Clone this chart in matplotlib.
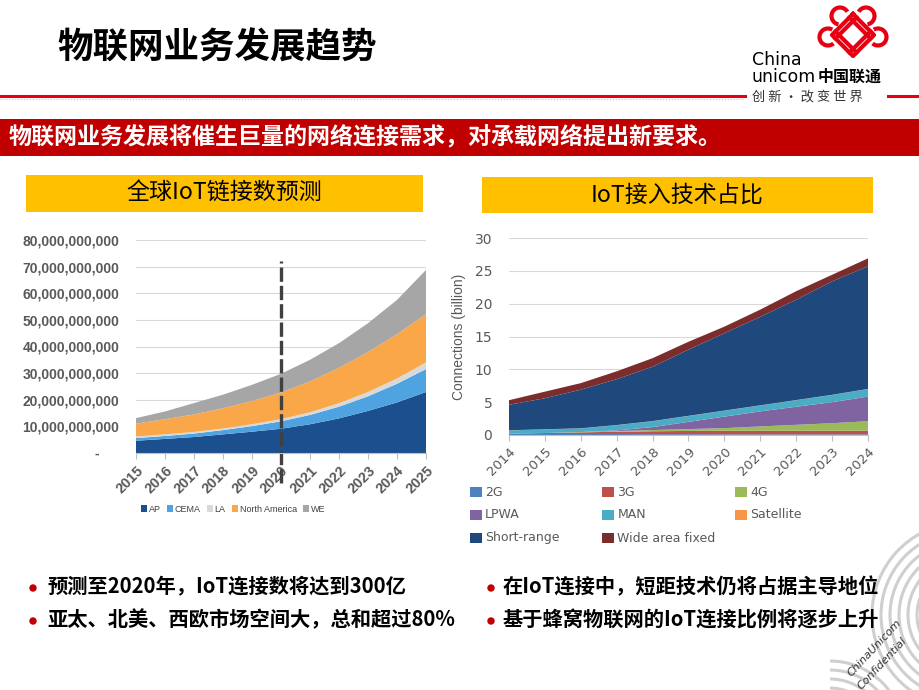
import matplotlib
matplotlib.use('Agg')
import matplotlib.pyplot as plt
from matplotlib.patches import Rectangle, Arc, Circle
from matplotlib.ticker import FuncFormatter
import numpy as np

plt.rcParams['font.family'] = ['Noto Sans CJK SC', 'DejaVu Sans']

# 左图：全球IoT链接数预测（单位：十亿）
years_l = list(range(2015, 2026))
AP = [4.6, 5.3, 6.0, 7.0, 8.0, 9.1, 10.8, 13.0, 15.8, 19.0, 22.9]
CEMA = [1.0, 1.1, 1.3, 1.6, 2.1, 2.8, 3.5, 4.4, 5.5, 7.0, 8.6]
LA = [0.6, 0.6, 0.6, 0.6, 0.7, 0.8, 1.0, 1.3, 1.6, 2.0, 2.5]
NA = [4.8, 5.7, 6.6, 7.6, 8.7, 10.0, 11.6, 13.3, 15.0, 16.6, 18.2]
WE = [2.1, 2.9, 4.25, 5.1, 6.1, 7.05, 8.1, 9.25, 10.85, 12.9, 16.55]
labels_l = ['AP', 'CEMA', 'LA', 'North America', 'WE']
colors_l = ['#1B4F8E', '#4FA3E0', '#D9D9D9', '#FAA74A', '#A6A6A6']
forecast_year = 2020

# 右图：IoT接入技术占比（单位：billion）
years_r = list(range(2014, 2025))
g2 = [0.15, 0.15, 0.15, 0.15, 0.12, 0.12, 0.1, 0.1, 0.1, 0.1, 0.1]
g3 = [0.05, 0.15, 0.25, 0.35, 0.45, 0.5, 0.55, 0.55, 0.55, 0.55, 0.55]
g4 = [0.0, 0.0, 0.05, 0.1, 0.18, 0.28, 0.4, 0.65, 0.9, 1.15, 1.45]
lpwa = [0.0, 0.0, 0.0, 0.1, 0.45, 1.1, 1.75, 2.3, 2.75, 3.2, 3.75]
man = [0.5, 0.55, 0.55, 0.8, 0.9, 0.9, 0.9, 0.9, 1.0, 1.1, 1.15]
satellite = [0.02] * 11
short_range = [3.88, 4.73, 5.88, 6.98, 8.28, 10.08, 11.78, 13.48, 15.28, 17.28, 18.68]
wide_fixed = [0.7, 1.0, 1.0, 1.2, 1.3, 1.2, 1.0, 1.1, 1.3, 1.0, 1.2]
labels_r = ['2G', '3G', '4G', 'LPWA', 'MAN', 'Satellite', 'Short-range', 'Wide area fixed']
colors_r = ['#4F81BD', '#C0504D', '#9BBB59', '#8064A2', '#4BACC6', '#F79646', '#1F497D', '#7B2C2C']

bullets_l = ['预测至2020年，IoT连接数将达到300亿', '亚太、北美、西欧市场空间大，总和超过80%']
bullets_r = ['在IoT连接中，短距技术仍将占据主导地位', '基于蜂窝物联网的IoT连接比例将逐步上升']

W, H = 920, 690
fig = plt.figure(figsize=(9.2, 6.9), dpi=100)

# 背景层（像素坐标）
bg = fig.add_axes([0, 0, 1, 1])
bg.set_xlim(0, W)
bg.set_ylim(H, 0)
bg.axis('off')

bg.text(57, 48, '物联网业务发展趋势', fontsize=25.6, fontweight='heavy', va='center', ha='left')
bg.plot([0, 745], [96, 96], color='#E60012', lw=2.2)
bg.plot([888, 920], [96, 96], color='#E60012', lw=2.2)
bg.plot([0, 745], [99, 99], color='#CCCCCC', lw=0.8, ls=':')

# logo
red = '#E60012'
cx, cy, s = 853, 35, 21
bg.plot([cx, cx + s, cx, cx - s, cx], [cy - s, cy, cy + s, cy, cy - s], color=red, lw=3)
for k in (-1, 1):
    d = s / 3 * k
    bg.plot([cx - s / 2 + d, cx + s / 2 + d], [cy - s / 2 - d, cy + s / 2 - d], color=red, lw=3)
    bg.plot([cx + s / 2 + d, cx - s / 2 + d], [cy - s / 2 + d, cy + s / 2 + d], color=red, lw=3)
for (ax_, ay_, t1, t2) in [(cx - 13, cy - 19, 100, 330), (cx + 13, cy - 19, 210, 80),
                          (cx - 25, cy + 2, 50, 300), (cx + 25, cy + 2, 240, 130)]:
    bg.add_patch(Arc((ax_, ay_), 17, 17, theta1=t1, theta2=t2, color=red, lw=3))
bg.text(752, 60, 'China', fontsize=12.5, family='DejaVu Sans', va='center', ha='left')
bg.text(752, 77, 'unicom', fontsize=12.5, family='DejaVu Sans', va='center', ha='left')
bg.text(818, 77, '中国联通', fontsize=11.5, fontweight='bold', va='center', ha='left')
bg.text(752, 97, '创 新 · 改 变 世 界', fontsize=9.5, va='center', ha='left', color='#333333')

# 红色横幅
bg.add_patch(Rectangle((0, 119), W, 37, color='#C00000', lw=0))
bg.text(9, 137.5, '物联网业务发展将催生巨量的网络连接需求，对承载网络提出新要求。',
        fontsize=16.6, fontweight='bold', color='white', va='center', ha='left')

# 黄色标题框
bg.add_patch(Rectangle((26, 175), 397, 37, color='#FFC000', lw=0))
bg.text(224.5, 193.5, '全球IoT链接数预测', fontsize=16.6, va='center', ha='center')
bg.add_patch(Rectangle((482, 177), 391, 36, color='#FFC000', lw=0))
bg.text(677.5, 195, 'IoT接入技术占比', fontsize=16.6, va='center', ha='center')

# 水印
for r in range(30, 100, 9):
    bg.add_patch(Arc((965, 615), 2 * r, 2 * r, theta1=95, theta2=265, color='#CFCFCF', lw=2.2))
for r in range(20, 80, 9):
    bg.add_patch(Arc((830, 735), 2 * r, 2 * r, theta1=270, theta2=360, color='#CFCFCF', lw=2.2))
bg.text(874, 648, 'ChinaUnicom', fontsize=8, style='italic', rotation=47, family='DejaVu Sans',
        va='center', ha='center', color='#333333')
bg.text(882, 663, 'Confidential', fontsize=8, style='italic', rotation=47, family='DejaVu Sans',
        va='center', ha='center', color='#333333')

# 要点
for i, txt in enumerate(bullets_l):
    y = 587 + 33 * i
    bg.add_patch(Circle((33, y + 1), 3, color='#C00000'))
    bg.text(47, y, txt, fontsize=14.6, fontweight='bold', va='center', ha='left')
for i, txt in enumerate(bullets_r):
    y = 587 + 33 * i
    bg.add_patch(Circle((491, y + 1), 3, color='#C00000'))
    bg.text(503, y, txt, fontsize=14.6, fontweight='bold', va='center', ha='left')

# 左图
axl = fig.add_axes([136 / W, 1 - 453 / H, 290 / W, 213 / H])
axl.set_facecolor('none')
series_l = [np.array(v) * 1e9 for v in (AP, CEMA, LA, NA, WE)]
axl.stackplot(years_l, series_l, colors=colors_l, labels=labels_l, linewidth=0)
axl.set_xlim(2015, 2025)
axl.set_ylim(0, 80e9)
axl.set_yticks(np.arange(0, 80e9 + 1, 10e9))
axl.yaxis.set_major_formatter(FuncFormatter(lambda v, p: '-     ' if v == 0 else f'{v:,.0f}'))
axl.set_xticks(years_l)
axl.set_axisbelow(True)
axl.grid(axis='y', color='#D9D9D9', lw=0.8)
for sp in ['top', 'right', 'left']:
    axl.spines[sp].set_visible(False)
axl.spines['bottom'].set_color('#BFBFBF')
axl.tick_params(axis='y', length=0, pad=12, labelsize=10, labelcolor='#595959')
axl.tick_params(axis='x', length=4, color='#BFBFBF', labelsize=10.4, labelcolor='#595959')
plt.setp(axl.get_yticklabels(), fontweight='bold', family='Liberation Sans')
plt.setp(axl.get_xticklabels(), fontweight='bold', family='Liberation Sans', rotation=45,
         ha='right', rotation_mode='anchor')
axl.axvline(forecast_year, ymin=-0.14, ymax=0.9, color='#404040', lw=2.4,
            ls=(0, (4.3, 1.2)), clip_on=False)
leg = axl.legend(loc='center', bbox_to_anchor=(0.335, -0.263), ncol=5, frameon=False,
                 prop={'family': 'Liberation Sans', 'size': 6.5}, handlelength=0.7,
                 handleheight=0.7, handletextpad=0.15, columnspacing=0.7)
for t in leg.get_texts():
    t.set_color('#404040')

# 右图
axr = fig.add_axes([509 / W, 1 - 435 / H, 359 / W, 197 / H])
axr.set_facecolor('none')
axr.stackplot(years_r, g2, g3, g4, lpwa, man, satellite, short_range, wide_fixed,
              colors=colors_r, linewidth=0)
axr.set_xlim(2014, 2024)
axr.set_ylim(0, 30)
axr.set_yticks(range(0, 31, 5))
axr.set_xticks(years_r)
axr.set_axisbelow(True)
axr.grid(axis='y', color='#D9D9D9', lw=0.8)
for sp in ['top', 'right', 'left']:
    axr.spines[sp].set_visible(False)
axr.spines['bottom'].set_color('#BFBFBF')
axr.tick_params(axis='y', length=0, pad=12, labelsize=10, labelcolor='#595959')
axr.tick_params(axis='x', length=4, color='#BFBFBF', labelsize=9.5, labelcolor='#595959')
plt.setp(axr.get_yticklabels(), family='DejaVu Sans')
plt.setp(axr.get_xticklabels(), family='DejaVu Sans', rotation=45, ha='right',
         rotation_mode='anchor')
axr.set_ylabel('Connections (billion)', family='Liberation Sans', fontsize=10,
               color='#595959', labelpad=6)

# 右图图例（3列）
for i, (lab, col) in enumerate(zip(labels_r, colors_r)):
    x = 470 + 132.5 * (i % 3)
    y = 492 + 23 * (i // 3)
    bg.add_patch(Rectangle((x, y - 5), 12, 10, color=col, lw=0))
    bg.text(x + 15, y, lab, fontsize=9, family='DejaVu Sans', color='#595959',
            va='center', ha='left')

fig.savefig('out.png', dpi=100)
